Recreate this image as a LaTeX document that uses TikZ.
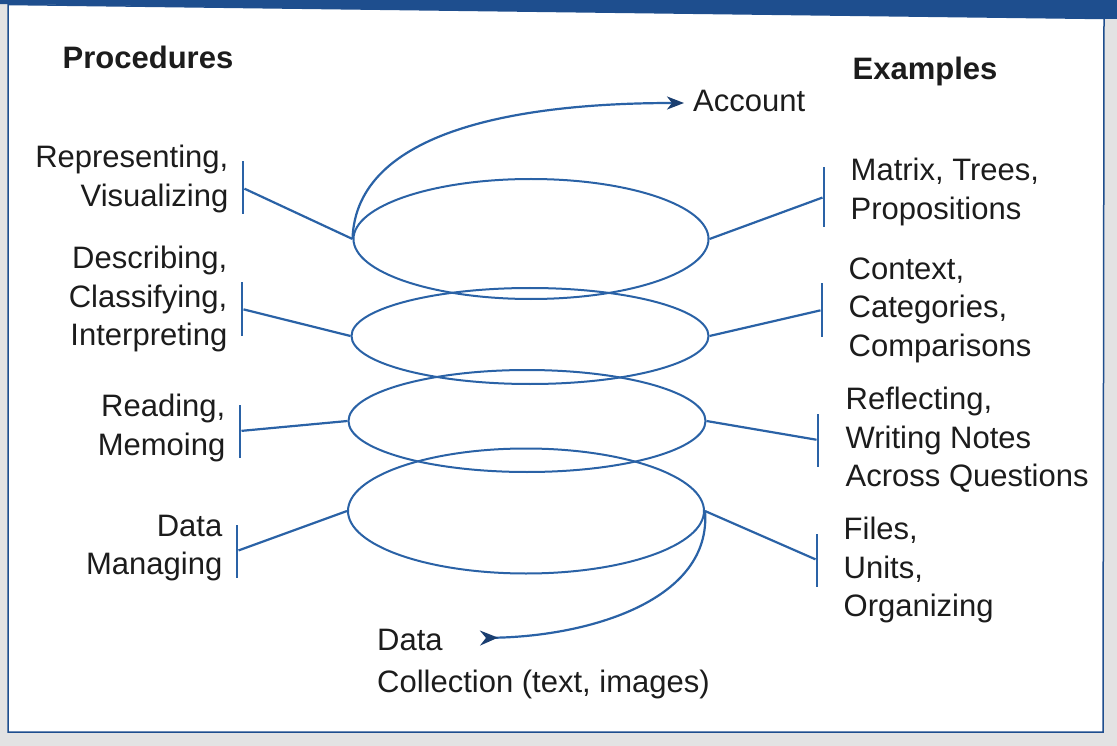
\documentclass[tikz,border=0pt]{standalone}
\usepackage{fontspec}
\setmainfont{Liberation Sans}
\usetikzlibrary{positioning,shapes.geometric,arrows.meta}
\definecolor{spiral}{HTML}{2A62A6}
\definecolor{tipc}{HTML}{1A3E70}
\definecolor{band}{HTML}{1E4E8E}
\definecolor{ink}{HTML}{1C1C1C}

\begin{document}
\begin{tikzpicture}[x=1pt,y=-1pt,
    ring/.style={ellipse, draw=spiral, line width=2pt, inner sep=0pt},
    tick/.style={fill=spiral, minimum width=2.6pt, minimum height=53pt, inner sep=0pt},
    link/.style={draw=spiral, line width=2.2pt},
    lbl/.style={inner sep=0pt, text=ink, font=\fontsize{31}{38.5}\selectfont},
    head/.style={lbl, font=\fontsize{31}{38.5}\selectfont\bfseries},
  ]
  \useasboundingbox (0,0) rectangle (1117,746);
  \fill[gray!22] (0,0) rectangle (1117,746);
  \fill[band] (0,0) -- (1117,0) -- (1117,19) -- (0,4) -- cycle;
  \filldraw[fill=white, draw=band, line width=1.5pt] (8,4.5) -- (1104,18.5) -- (1103,732) -- (8,732) -- cycle;

  \node[ring, minimum width=355pt, minimum height=120pt] (r1) at (531,239) {};
  \node[ring, minimum width=357pt, minimum height=96pt] (r2) at (530,336) {};
  \node[ring, minimum width=357pt, minimum height=102pt] (r3) at (527,421) {};
  \node[ring, minimum width=356pt, minimum height=125pt] (r4) at (526,511) {};

  \node[tick] (lb1) at (243,188) {};
  \node[tick] (lb2) at (242,309) {};
  \node[tick] (lb3) at (240,431) {};
  \node[tick] (lb4) at (237,551) {};
  \node[tick, minimum height=60pt] (rb1) at (824,197) {};
  \node[tick] (rb2) at (822,310) {};
  \node[tick] (rb3) at (818,440) {};
  \node[tick] (rb4) at (817,560) {};

  \node[head] (proc) at (148,57) {Procedures};
  \node[head] (exam) at (925,71) {Examples};

  \node[lbl, align=right, left=13pt of lb1, yshift=9pt] (lp1) {Representing,\\Visualizing};
  \node[lbl, align=right, left=13pt of lb2, yshift=10pt] (lp2) {Describing,\\Classifying,\\Interpreting};
  \node[lbl, align=right, left=13pt of lb3, yshift=3pt] (lp3) {Reading,\\Memoing};
  \node[lbl, align=right, left=13pt of lb4, yshift=3pt] (lp4) {Data\\Managing};

  \node[lbl, align=left, right=25pt of rb1, yshift=5pt] (ex1) {Matrix, Trees,\\Propositions};
  \node[lbl, align=left, right=25pt of rb2] (ex2) {Context,\\Categories,\\Comparisons};
  \node[lbl, align=left, right=26pt of rb3] (ex3) {Reflecting,\\Writing Notes\\Across Questions};
  \node[lbl, align=left, right=25pt of rb4, yshift=-10pt] (ex4) {Files,\\Units,\\Organizing};

  \coordinate (acctip) at (684,103);
  \node[lbl, right=9pt of acctip, yshift=2pt] (acc) {Account};
  \coordinate (dctail) at (480,638);
  \node[lbl, align=left, anchor=north west, font=\fontsize{31}{42}\selectfont] (dc) at (377,629) {Data\\Collection (text, images)};

  \draw[link] (lb1) -- (r1.west);
  \draw[link] (lb2) -- (r2.west);
  \draw[link] (lb3) -- (r3.west);
  \draw[link] (lb4) -- (r4.west);
  \draw[link] (rb1) -- (r1.east);
  \draw[link] (rb2) -- (r2.east);
  \draw[link] (rb3) -- (r3.east);
  \draw[link] (rb4) -- (r4.east);

  \draw[link, -{Stealth[length=17pt,width=13pt,inset=5pt,color=tipc]}] (r1.west) .. controls (356,130) and (520,103) .. (acctip);
  \draw[link, {Stealth[length=18pt,width=15pt,inset=6pt,reversed,color=tipc]}-] (dctail) .. controls (590,636) and (712,600) .. (r4.east);
\end{tikzpicture}
\end{document}
